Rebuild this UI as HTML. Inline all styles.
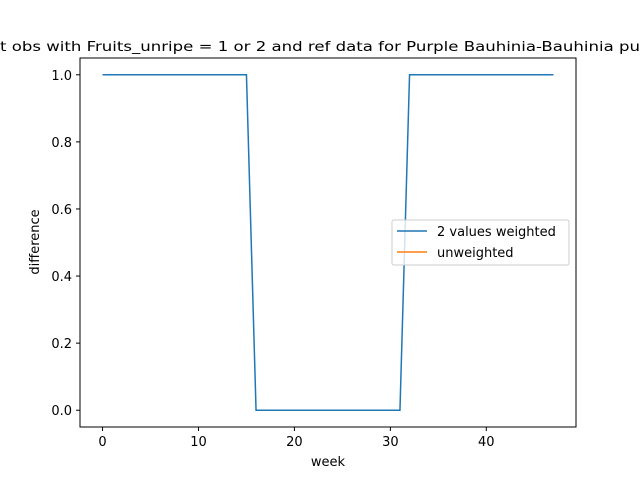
<!DOCTYPE html>
<html><head><meta charset="utf-8"><style>body{margin:0;background:#fff}svg{display:block;font-family:"DejaVu Sans","Liberation Sans",sans-serif}</style></head>
<body>
<svg id="chart" width="640" height="480">
<rect x="0" y="0" width="640" height="480" fill="#fff"/>
<text x="0" y="51" font-size="13" textLength="640" lengthAdjust="spacingAndGlyphs">t obs with Fruits_unripe = 1 or 2 and ref data for Purple Bauhinia-Bauhinia pu</text>
<g id="plot"></g>
<rect x="80" y="58" width="496" height="369" fill="none" stroke="#000" stroke-width="1"/>
<text x="328" y="466" font-size="13" text-anchor="middle">week</text>
<text x="0" y="0" font-size="13" text-anchor="middle" transform="translate(39,242) rotate(-90)">difference</text>
<g>
<rect x="392" y="220" width="177" height="45" rx="2" fill="#fff" fill-opacity="0.8" stroke="#ccc"/>
<line x1="397" y1="231" x2="427" y2="231" stroke="#1f77b4" stroke-width="1.5"/>
<text x="437" y="236" font-size="13">2 values weighted</text>
<line x1="397" y1="252" x2="427" y2="252" stroke="#ff7f0e" stroke-width="1.5"/>
<text x="437" y="257" font-size="13">unweighted</text>
</g>
</svg>
<script>
const weeks = [];
for (let i = 0; i < 48; i++) weeks.push(i);
const weightedValues = [1,1,1,1,1,1,1,1,1,1,1,1,1,1,1,1,0,0,0,0,0,0,0,0,0,0,0,0,0,0,0,0,1,1,1,1,1,1,1,1,1,1,1,1,1,1,1,1];
const xTicks = [0,10,20,30,40];
const yTicks = [0.0,0.2,0.4,0.6,0.8,1.0];
const xMin=-2.35,xMax=49.35,yMin=-0.05,yMax=1.05;
const L=80,R=576,T=58,B=427;
const sx=v=>L+(v-xMin)/(xMax-xMin)*(R-L);
const sy=v=>B-(v-yMin)/(yMax-yMin)*(B-T);
const NS='http://www.w3.org/2000/svg';
const g=document.getElementById('plot');
function mk(t,a){const e=document.createElementNS(NS,t);for(const k in a)e.setAttribute(k,a[k]);g.appendChild(e);return e;}
xTicks.forEach(v=>{
 const l=mk('line',{x1:sx(v),x2:sx(v),y1:B,y2:B+4,stroke:'#000'});
 
 
 const t=mk('text',{x:sx(v),y:B+19,'font-size':13,'text-anchor':'middle'});t.textContent=v;
 
 
});
yTicks.forEach(v=>{
 const l=mk('line',{x1:L-4,x2:L,y1:sy(v),y2:sy(v),stroke:'#000'});
 
 
 const t=mk('text',{x:L-8,y:sy(v)+5,'font-size':13,'text-anchor':'end'});t.textContent=v.toFixed(1);
 
 
});
const p=mk('polyline',{points:weeks.map((w,i)=>sx(w)+','+sy(weightedValues[i])).join(' '),fill:'none',stroke:'#1f77b4','stroke-width':1.5});


</script>
</body></html>
